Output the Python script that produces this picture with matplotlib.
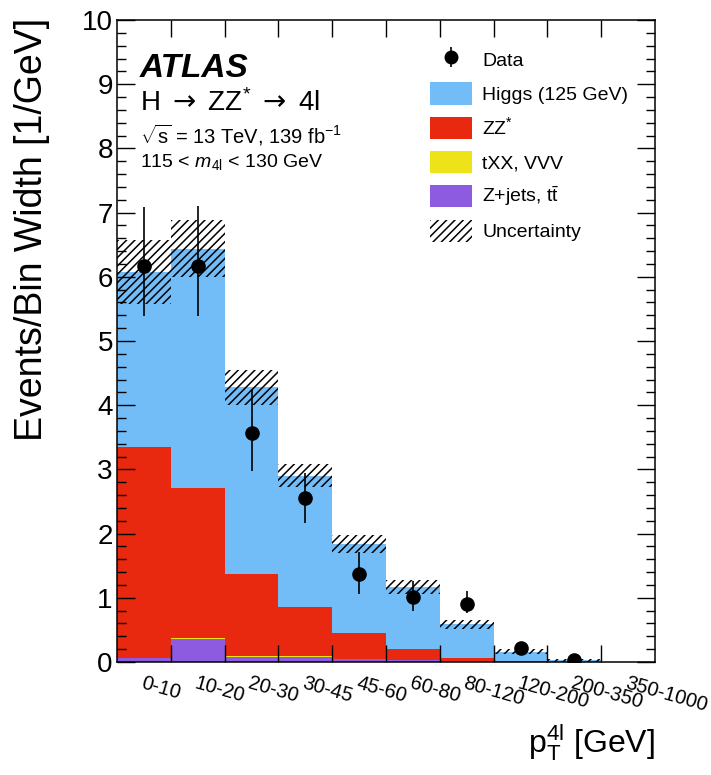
import numpy as np
import matplotlib
matplotlib.use("Agg")
import matplotlib.pyplot as plt
from matplotlib.patches import Patch

plt.rcParams["font.family"] = ["Liberation Sans", "DejaVu Sans"]
plt.rcParams["mathtext.fontset"] = "custom"
plt.rcParams["mathtext.rm"] = "Liberation Sans"
plt.rcParams["mathtext.it"] = "Liberation Sans:italic"
plt.rcParams["mathtext.bf"] = "Liberation Sans:bold"
plt.rcParams["mathtext.sf"] = "DejaVu Sans"
plt.rcParams["hatch.linewidth"] = 1.1

# pT(4l) bins, events / bin width
bins = ["0-10", "10-20", "20-30", "30-45", "45-60", "60-80", "80-120",
        "120-200", "200-350", "350-1000"]
zjets = [0.06, 0.36, 0.08, 0.08, 0.04, 0.03, 0.01, 0.003, 0.001, 0.0]
txx = [0.01, 0.01, 0.01, 0.01, 0.01, 0.005, 0.005, 0.002, 0.001, 0.0]
zz = [3.28, 2.34, 1.28, 0.76, 0.40, 0.175, 0.055, 0.015, 0.003, 0.0005]
higgs = [2.73, 3.73, 2.91, 2.05, 1.39, 0.96, 0.52, 0.14, 0.02, 0.0015]
syst = [0.50, 0.45, 0.27, 0.18, 0.145, 0.11, 0.07, 0.04, 0.02, 0.001]
data = [6.17, 6.17, 3.57, 2.56, 1.37, 1.02, 0.91, 0.22, 0.03, np.nan]
err_up = [0.92, 0.93, 0.69, 0.39, 0.35, 0.24, 0.19, 0.06, 0.02, np.nan]
err_dn = [0.78, 0.78, 0.59, 0.40, 0.31, 0.23, 0.15, 0.05, 0.02, np.nan]

c_higgs, c_zz, c_txx, c_zjets = "#72BCF8", "#E8280F", "#EDE318", "#8C5BDF"

fig = plt.figure(figsize=(7.11, 7.75), dpi=100)
ax = fig.add_axes([0.1646, 0.1458, 0.7567, 0.8284])

x = np.arange(len(bins))
bottom = np.zeros(len(bins))
for vals, col in [(zjets, c_zjets), (txx, c_txx), (zz, c_zz), (higgs, c_higgs)]:
    ax.bar(x, vals, width=1, align="edge", bottom=bottom, color=col, linewidth=0)
    bottom = bottom + np.array(vals)

total = bottom
syst = np.array(syst)
ax.bar(x, 2 * syst, width=1, align="edge", bottom=total - syst, fill=False,
       hatch="////", edgecolor="k", linewidth=0)

ax.errorbar(x + 0.5, data, yerr=[err_dn, err_up], fmt="o", color="k", ms=9.5,
            elinewidth=1.2, capsize=0, zorder=5)

ax.set_xlim(0, len(bins))
ax.set_ylim(0, 10)

# ROOT-like ticks
ax.set_xticks(x[1:])
ax.set_xticklabels([])
ax.set_xticks(x + 0.5, minor=True)
ax.set_xticklabels(bins, minor=True, rotation=-16, ha="left", va="top",
                   rotation_mode="anchor", fontsize=14.5)
ax.tick_params(axis="x", which="major", direction="in", length=12, width=1,
               top=True)
ax.tick_params(axis="x", which="minor", length=0, pad=8)
ax.set_yticks(np.arange(0, 11, 1))
ax.set_yticks(np.arange(0, 10.01, 0.2), minor=True)
ax.tick_params(axis="y", which="major", direction="in", length=13, width=1,
               right=True, labelsize=20, pad=3)
ax.tick_params(axis="y", which="minor", direction="in", length=6.5, width=1,
               right=True)
for s in ax.spines.values():
    s.set_linewidth(1.1)

ax.set_ylabel("Events/Bin Width [1/GeV]", fontsize=27, loc="top")
ax.yaxis.set_label_coords(-0.124, 1.003)
ax.set_xlabel(r"$\mathrm{p}_{\mathrm{T}}^{\mathrm{4l}}$ [GeV]", fontsize=23,
              loc="right")
ax.xaxis.set_label_coords(1.0, -0.095)

ax.text(0.043, 0.925, "ATLAS", transform=ax.transAxes, fontsize=24,
        fontweight="bold", style="italic", va="center")
ax.text(0.043, 0.871, r"H $\mathsf{\rightarrow}$ ZZ$^{*}$ $\mathsf{\rightarrow}$ 4l",
        transform=ax.transAxes, fontsize=20, va="center")
ax.text(0.043, 0.821, r"$\sqrt{\mathrm{s}}$ = 13 TeV, 139 fb$^{-1}$",
        transform=ax.transAxes, fontsize=14.5, va="center")
ax.text(0.043, 0.779, r"115 < $m_{\mathrm{4l}}$ < 130 GeV",
        transform=ax.transAxes, fontsize=14, va="center")

h_data = ax.errorbar([], [], yerr=[], fmt="o", color="k", ms=9,
                     elinewidth=1.2, capsize=3)
handles = [
    h_data,
    Patch(facecolor=c_higgs, linewidth=0),
    Patch(facecolor=c_zz, linewidth=0),
    Patch(facecolor=c_txx, linewidth=0),
    Patch(facecolor=c_zjets, linewidth=0),
    Patch(facecolor="none", edgecolor="k", hatch="////", linewidth=0),
]
labels = ["Data", "Higgs (125 GeV)", "ZZ$^{*}$", "tXX, VVV",
          r"Z+jets, t$\bar{\mathrm{t}}$", "Uncertainty"]
ax.legend(handles, labels, loc="upper left", bbox_to_anchor=(0.582, 0.956),
          frameon=False, fontsize=14, handlelength=2.16, handleheight=1.39,
          labelspacing=0.6, handletextpad=0.52, borderpad=0,
          borderaxespad=0)

fig.savefig("out.png", dpi=100)
